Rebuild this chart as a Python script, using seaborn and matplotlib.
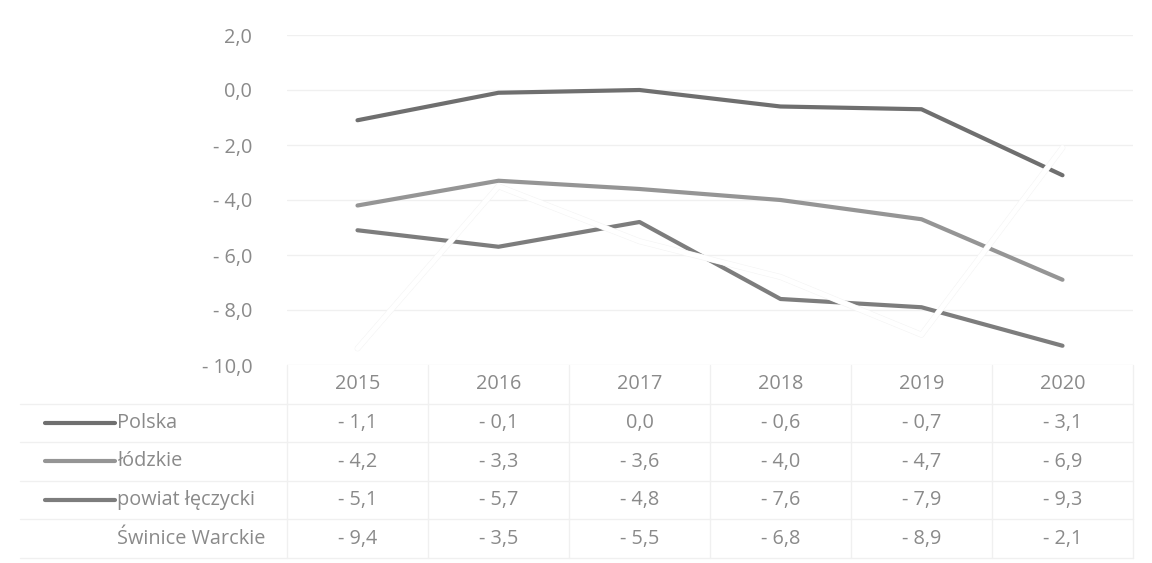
import numpy as np
import pandas as pd
import matplotlib
matplotlib.use("Agg")
import matplotlib.pyplot as plt
import matplotlib.patheffects as pe
import seaborn as sns

years = ["2015", "2016", "2017", "2018", "2019", "2020"]
series_names = ["Polska", "łódzkie", "powiat łęczycki", "Świnice Warckie"]
polska = [-1.1, -0.1, 0.0, -0.6, -0.7, -3.1]
lodzkie = [-4.2, -3.3, -3.6, -4.0, -4.7, -6.9]
powiat = [-5.1, -5.7, -4.8, -7.6, -7.9, -9.3]
swinice = [-9.4, -3.5, -5.5, -6.8, -8.9, -2.1]
y_ticks = [2.0, 0.0, -2.0, -4.0, -6.0, -8.0, -10.0]

colors = ["#6f6f6f", "#959595", "#7d7d7d", "#ffffff"]
values = [polska, lodzkie, powiat, swinice]

rows = []
for name, vals in zip(series_names, values):
    for i, (yr, v) in enumerate(zip(years, vals)):
        rows.append({"series": name, "pos": i, "year": yr, "value": v})
df = pd.DataFrame(rows)

sns.set_theme(style="white")
plt.rcParams["font.family"] = ["Open Sans", "DejaVu Sans"]

TXT = "#8a8a8a"
FS = 14.3

def fmt(v):
    s = f"{abs(v):.1f}".replace(".", ",")
    return ("- " + s) if v < -1e-9 else s

W, H = 1152, 563
fig = plt.figure(figsize=(W / 100, H / 100), dpi=100)
L, R = 287 / W, 1133 / W
ax = fig.add_axes([L, 1 - 365 / H, R - L, (365 - 35) / H])

sns.lineplot(data=df, x="pos", y="value", hue="series", hue_order=series_names,
             palette=dict(zip(series_names, colors)), linewidth=3.0, legend=False,
             ax=ax, sort=False)
for ln, name in zip(ax.get_lines(), series_names):
    ln.set_solid_capstyle("round")
    if name == "Świnice Warckie":
        ln.set_zorder(5)
        ln.set_linewidth(3.5)
        ln.set_path_effects([pe.Stroke(linewidth=4.2, foreground="#f3f3f3"), pe.Normal()])

ax.set_xlim(-0.5, 5.5)
ax.set_ylim(-10, 2)
ax.set_yticks(y_ticks)
ax.set_yticklabels([fmt(t) for t in y_ticks], color=TXT, fontsize=FS)
ax.tick_params(axis="y", pad=25, length=0)
ax.set_xticks([])
ax.set_xlabel("")
ax.set_ylabel("")
ax.grid(axis="y", color="#f0f0f0", linewidth=1)
for s in ax.spines.values():
    s.set_visible(False)

# data table
tax = fig.add_axes([L, 1 - 558 / H, R - L, (558 - 365) / H])
tax.set_xlim(-0.5, 5.5)
tax.set_ylim(4.5, -0.5)
tax.axis("off")
for i, yr in enumerate(years):
    tax.text(i, 0, yr, ha="center", va="center", color=TXT, fontsize=FS)
tr = tax.get_yaxis_transform()
x0 = (45 / W - L) / (R - L)
x1 = (115 / W - L) / (R - L)
xl = (117 / W - L) / (R - L)
for r, (name, vals, c) in enumerate(zip(series_names, values, colors), start=1):
    for i, v in enumerate(vals):
        tax.text(i, r, fmt(v), ha="center", va="center", color=TXT, fontsize=FS)
    tax.plot([x0, x1], [r, r], transform=tr, color=c, linewidth=3.0,
             solid_capstyle="round", clip_on=False)
    tax.text(xl, r, name, transform=tr, ha="left", va="center", color=TXT,
             fontsize=FS, clip_on=False)
# faint table grid
xleft = (20 / W - L) / (R - L)
for r in np.arange(0.5, 5, 1.0):
    tax.plot([xleft, 1.0], [r, r], transform=tr, color="#f0f0f0", linewidth=1, clip_on=False)
for k in range(7):
    tax.plot([k - 0.5, k - 0.5], [-0.5, 4.5], color="#f0f0f0", linewidth=1, clip_on=False)

fig.savefig("out.png", dpi=100, facecolor="white")
